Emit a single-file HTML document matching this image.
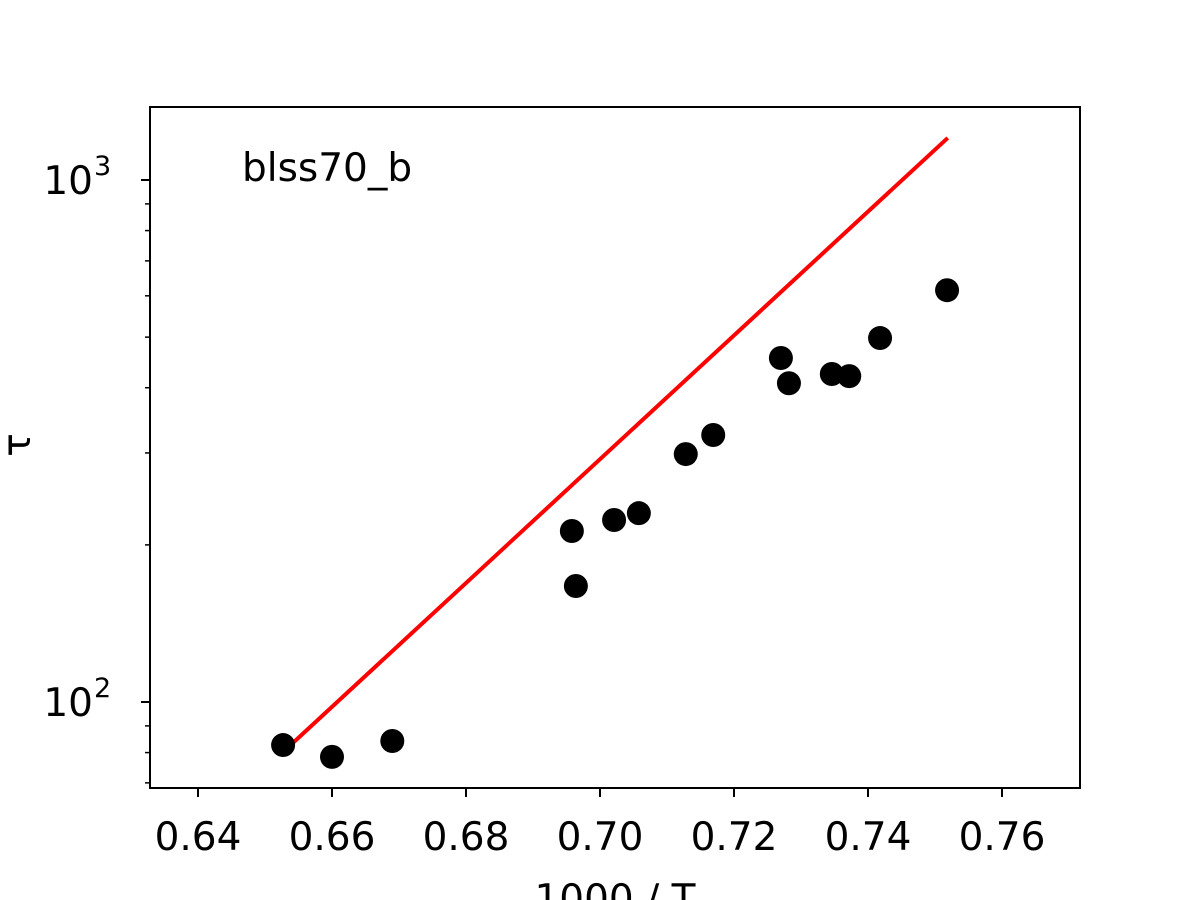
<!DOCTYPE html>
<html><head><meta charset="utf-8"><style>
body{margin:0;background:#fff;}
svg{display:block;font-family:"DejaVu Sans","Liberation Sans",sans-serif;}
</style></head><body>
<svg id="chart" width="1200" height="900" xmlns="http://www.w3.org/2000/svg">
<g id="g"></g>
</svg>
<script>
const xTicks=[0.64,0.66,0.68,0.70,0.72,0.74,0.76];
const xTickLabels=["0.64","0.66","0.68","0.70","0.72","0.74","0.76"];
const ptX=[0.6527,0.6600,0.6690,0.6958,0.6964,0.7021,0.7058,0.7128,0.7169,0.7270,0.7282,0.7346,0.7372,0.7418,0.7518];
const ptY=[82.7,78.5,84.2,212.6,166.8,223.2,230,298.5,324.7,456,408,425,421,498,615];
const fitX=[0.6527,0.7519];
const fitY=[80.2,1204];
const NS="http://www.w3.org/2000/svg";
const L=150,R=1080,T=107,B=788;
function sx(v){return 198+(v-0.64)*6700;}
function sy(v){return 702-(Math.log10(v)-2)*522;}
const g=document.getElementById('g');
function mk(t,a){const e=document.createElementNS(NS,t);for(const k in a)e.setAttribute(k,a[k]);g.appendChild(e);return e;}
const ln=mk('line',{x1:sx(fitX[0]),y1:sy(fitY[0]),x2:sx(fitX[1]),y2:sy(fitY[1]),stroke:'#ff0000','stroke-width':4});


for(let i=0;i<ptX.length;i++){
 const c=mk('circle',{cx:sx(ptX[i]),cy:sy(ptY[i]),r:12,fill:'#000'});
 
 
}
const fr=mk('rect',{x:L,y:T,width:R-L,height:B-T,fill:'none',stroke:'#000','stroke-width':2});


for(let i=0;i<xTicks.length;i++){
 const x=sx(xTicks[i]);
 mk('line',{x1:x,y1:B,x2:x,y2:B+9,stroke:'#000','stroke-width':2});
 const t=mk('text',{x:x,y:B+62,'text-anchor':'middle','font-size':'39'});
 t.textContent=xTickLabels[i];
 
 
}
[2,3].forEach(k=>{
 const y=sy(Math.pow(10,k));
 mk('line',{x1:L,y1:y,x2:L-9,y2:y,stroke:'#000','stroke-width':2});
 const t=mk('text',{x:93,y:y+14,'text-anchor':'end','font-size':'39'});
 t.textContent='10';
 
 
 const s=mk('text',{x:94,y:y-5,'text-anchor':'start','font-size':'27'});
 s.textContent=String(k);
});
[70,80,90,200,300,400,500,600,700,800,900].forEach(v=>{
 const y=sy(v);
 mk('line',{x1:L,y1:y,x2:L-5,y2:y,stroke:'#000','stroke-width':1.5});
});
</script>
<svg style="position:absolute;left:0;top:0" width="1200" height="900" xmlns="http://www.w3.org/2000/svg" font-family="DejaVu Sans, Liberation Sans, sans-serif">
<text x="242" y="181" font-size="39">blss70_b</text>
<text x="615" y="912" font-size="39" text-anchor="middle">1000 / T</text>
<text x="30" y="445" font-size="39" text-anchor="middle" transform="rotate(-90 30 445)">τ</text>
</svg>
</body></html>
